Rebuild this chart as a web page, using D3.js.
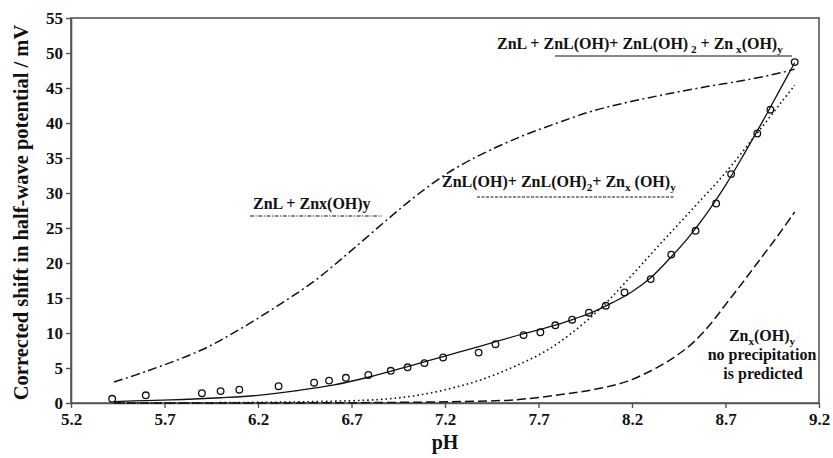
<!DOCTYPE html>
<html>
<head>
<meta charset="utf-8">
<script src="https://cdn.jsdelivr.net/npm/d3@7"></script>
<style>
  html, body { margin: 0; padding: 0; background: #fff; }
</style>
</head>
<body>
<svg id="chart" width="833" height="458"></svg>
<script>
const SERIF = "'Liberation Serif', 'Times New Roman', 'DejaVu Serif', serif";

// Measured zinc half-wave potential shifts vs pH
const obsPH    = [5.42, 5.60, 5.90, 6.00, 6.10, 6.31, 6.50, 6.58, 6.67, 6.79, 6.91, 7.00, 7.09, 7.19, 7.38, 7.47,
                  7.62, 7.71, 7.79, 7.88, 7.97, 8.06, 8.16, 8.30, 8.41, 8.54, 8.65, 8.73, 8.87, 8.94, 9.07];
const obsShift = [0.6, 1.1, 1.4, 1.7, 1.9, 2.4, 2.9, 3.2, 3.6, 4.0, 4.6, 5.1, 5.7, 6.5, 7.2, 8.4,
                  9.7, 10.1, 11.1, 11.9, 12.9, 13.9, 15.8, 17.7, 21.2, 24.6, 28.5, 32.7, 38.5, 41.9, 48.7];

// Model: ZnL + ZnL(OH) + ZnL(OH)2 + Znx(OH)y (solid)
const fullPH    = [5.43, 5.6, 5.8, 6.0, 6.2, 6.4, 6.6, 6.8, 7.0, 7.2, 7.4, 7.6, 7.8, 7.9, 8.0, 8.1, 8.2, 8.3, 8.4,
                   8.5, 8.6, 8.7, 8.8, 8.9, 9.0, 9.07];
const fullShift = [0.2, 0.35, 0.5, 0.75, 1.1, 1.75, 2.55, 3.75, 5.2, 6.7, 8.2, 9.75, 11.2, 12.1, 13.1, 14.4, 15.9, 17.9, 20.6,
                   23.6, 27.1, 31.1, 35.6, 40.3, 45.2, 48.6];

// Model: ZnL + Znx(OH)y (dash-dot)
const znlPH    = [5.43, 5.6, 5.9, 6.1, 6.3, 6.5, 6.7, 6.9, 7.05, 7.2, 7.3, 7.4, 7.6, 7.8, 8.0, 8.2, 8.4, 8.6, 8.8, 9.0, 9.07];
const znlShift = [3.0, 4.5, 7.6, 10.5, 13.8, 17.4, 21.8, 26.4, 29.7, 32.6, 34.2, 35.6, 38.0, 40.0, 41.8, 43.1, 44.2, 45.2, 46.1, 47.2, 47.7];

// Model: ZnL(OH) + ZnL(OH)2 + Znx(OH)y (dotted)
const hydPH    = [5.43, 6.0, 6.5, 6.85, 7.03, 7.21, 7.39, 7.57, 7.75, 7.92, 8.05, 8.17, 8.35, 8.53, 8.7, 8.85, 9.0, 9.07];
const hydShift = [0.0, 0.05, 0.2, 0.5, 1.0, 1.95, 3.3, 5.2, 7.6, 10.9, 14.0, 17.4, 22.7, 27.9, 32.9, 37.9, 43.0, 45.4];

// Model: Znx(OH)y only (dashed)
const precPH    = [5.43, 6.5, 7.0, 7.3, 7.57, 7.82, 8.0, 8.17, 8.35, 8.45, 8.53, 8.62, 8.71, 8.8, 8.89, 8.98, 9.07];
const precShift = [0.0, 0.02, 0.1, 0.22, 0.45, 1.2, 1.95, 3.05, 5.3, 7.0, 8.7, 11.3, 14.4, 17.5, 20.7, 23.9, 27.3];

const xTicks = [5.2, 5.7, 6.2, 6.7, 7.2, 7.7, 8.2, 8.7, 9.2];
const yTicks = [0, 5, 10, 15, 20, 25, 30, 35, 40, 45, 50, 55];

const margin = { left: 71, right: 14, top: 18, bottom: 55 };
const W = 833, H = 458;
const svg = d3.select("#chart").attr("font-family", SERIF);

const x = d3.scaleLinear().domain([5.2, 9.2]).range([margin.left, W - margin.right]);
const y = d3.scaleLinear().domain([0, 55]).range([H - margin.bottom, margin.top]);

// plot frame
svg.append("rect")
  .attr("x", x(5.2)).attr("y", y(55))
  .attr("width", x(9.2) - x(5.2)).attr("height", y(0) - y(55))
  .attr("fill", "none").attr("stroke", "#555").attr("stroke-width", 1.6);

// axes
const xAxis = svg.append("g").attr("transform", `translate(0,${y(0)})`)
  .call(d3.axisBottom(x).tickValues(xTicks).tickFormat(d3.format(".1f")).tickSize(5).tickSizeOuter(0).tickPadding(5));
const yAxis = svg.append("g").attr("transform", `translate(${x(5.2)},0)`)
  .call(d3.axisLeft(y).tickValues(yTicks).tickFormat(d3.format("d")).tickSize(5).tickSizeOuter(0).tickPadding(3));
[xAxis, yAxis].forEach(g => {
  g.attr("font-family", SERIF).attr("font-size", 17).attr("font-weight", "bold");
  g.select(".domain").attr("stroke", "#555").attr("stroke-width", 1.6);
  g.selectAll(".tick line").attr("stroke", "#555").attr("stroke-width", 1.4);
  g.selectAll(".tick text").attr("fill", "#111");
});

// curves
const line = d3.line().x(d => x(d[0])).y(d => y(d[1])).curve(d3.curveCatmullRom.alpha(0.5));
const zip = (a, b) => a.map((v, i) => [v, b[i]]);

svg.append("path").datum(zip(precPH, precShift)).attr("d", line)
  .attr("fill", "none").attr("stroke", "#111").attr("stroke-width", 1.5).attr("stroke-dasharray", "9,4");
svg.append("path").datum(zip(hydPH, hydShift)).attr("d", line)
  .attr("fill", "none").attr("stroke", "#111").attr("stroke-width", 1.6).attr("stroke-dasharray", "1.6,3");
svg.append("path").datum(zip(znlPH, znlShift)).attr("d", line)
  .attr("fill", "none").attr("stroke", "#111").attr("stroke-width", 1.5).attr("stroke-dasharray", "9,3.5,2,3.5");
svg.append("path").datum(zip(fullPH, fullShift)).attr("d", line)
  .attr("fill", "none").attr("stroke", "#111").attr("stroke-width", 1.3);

// measured points
svg.append("g").selectAll("circle").data(zip(obsPH, obsShift)).join("circle")
  .attr("cx", d => x(d[0])).attr("cy", d => y(d[1])).attr("r", 3.3)
  .attr("fill", "none").attr("stroke", "#111").attr("stroke-width", 1.3);

// axis titles
svg.append("text").attr("x", x(7.2)).attr("y", 449)
  .attr("text-anchor", "middle").attr("font-weight", "bold").attr("font-size", 20).attr("fill", "#111")
  .text("pH");
svg.append("text").attr("transform", `translate(28,${(y(0) + y(55)) / 2 + 2}) rotate(-90)`)
  .attr("text-anchor", "middle").attr("font-weight", "bold").attr("font-size", 20.5).attr("fill", "#111")
  .text("Corrected shift in half-wave potential / mV");

// labelled annotations; parts are [text, isSubscript]
function label(xp, yp, parts, size) {
  const t = svg.append("text").attr("x", xp).attr("y", yp)
    .attr("font-weight", "bold").attr("font-size", size).attr("fill", "#111");
  let shifted = false;
  parts.forEach(([s, sub]) => {
    const ts = t.append("tspan").text(s);
    if (sub && !shifted) { ts.attr("dy", 4).attr("font-size", size * 0.7); shifted = true; }
    else if (sub) { ts.attr("font-size", size * 0.7); }
    else if (shifted) { ts.attr("dy", -4); shifted = false; }
  });
  return t;
}

label(253, 209, [["ZnL + Znx(OH)y"]], 16);
svg.append("line").attr("x1", 250).attr("x2", 382).attr("y1", 216).attr("y2", 216)
  .attr("stroke", "#111").attr("stroke-width", 1).attr("stroke-dasharray", "4,1.5,1.2,1.5");

label(442, 187, [["ZnL(OH)+ ZnL(OH)"], ["2", true], ["+ Zn"], ["x", true], [" (OH)"], ["y", true]], 16);
svg.append("line").attr("x1", 477).attr("x2", 675).attr("y1", 197).attr("y2", 197)
  .attr("stroke", "#111").attr("stroke-width", 1).attr("stroke-dasharray", "3,1.5");

label(497, 49, [["ZnL + ZnL(OH)+ ZnL(OH)"], [" 2", true], [" + Zn"], [" x", true], ["(OH)"], ["y", true]], 16);
svg.append("line").attr("x1", 555).attr("x2", 792).attr("y1", 56).attr("y2", 56)
  .attr("stroke", "#111").attr("stroke-width", 1.2);

const note = svg.append("g").attr("font-weight", "bold").attr("font-size", 16).attr("fill", "#111").attr("text-anchor", "middle");
const n1 = note.append("text").attr("x", 762).attr("y", 341);
n1.append("tspan").text("Zn");
n1.append("tspan").text("x").attr("dy", 4).attr("font-size", 11);
n1.append("tspan").text("(OH)").attr("dy", -4);
n1.append("tspan").text("y").attr("dy", 4).attr("font-size", 11);
note.append("text").attr("x", 762).attr("y", 360).text("no precipitation");
note.append("text").attr("x", 763).attr("y", 379).text("is predicted");
</script>
</body>
</html>
